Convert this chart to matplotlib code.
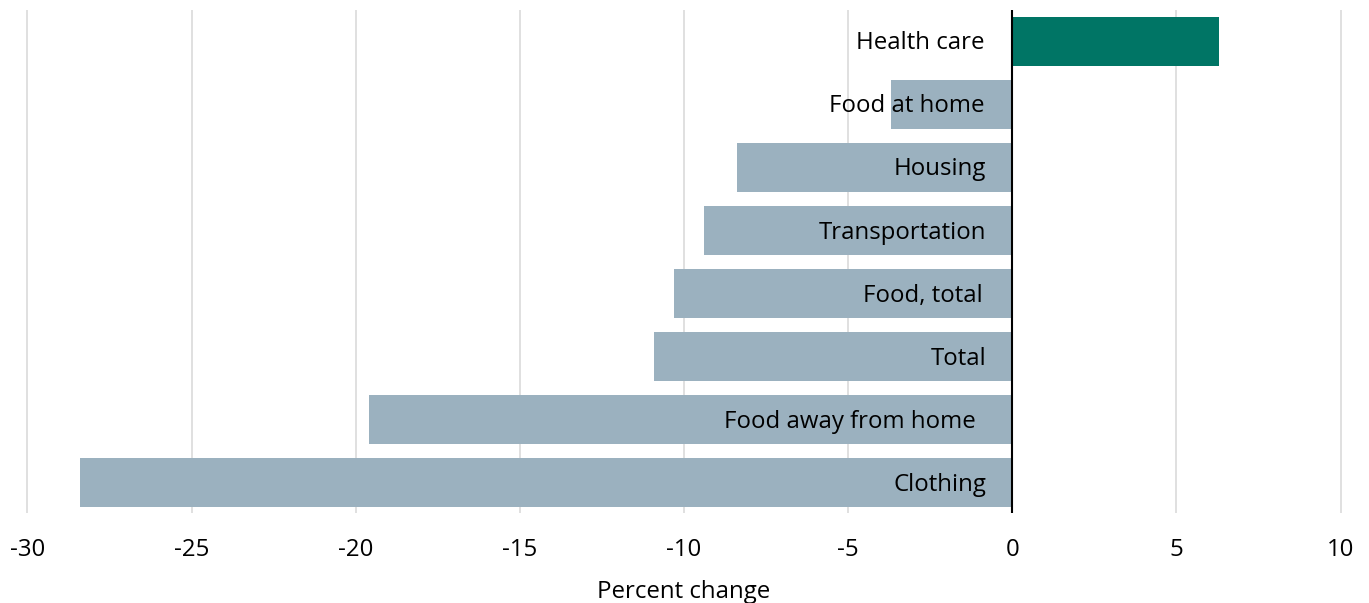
import matplotlib
matplotlib.use("Agg")
import matplotlib.pyplot as plt

categories = ["Health care", "Food at home", "Housing", "Transportation",
              "Food, total", "Total", "Food away from home", "Clothing"]
values = [6.3, -3.7, -8.4, -9.4, -10.3, -10.9, -19.6, -28.4]
xticks = [-30, -25, -20, -15, -10, -5, 0, 5, 10]

plt.rcParams['font.family'] = ['Open Sans', 'DejaVu Sans']

W, H = 1369, 603
fig = plt.figure(figsize=(W / 100, H / 100), dpi=100)
ax = fig.add_axes([11 / W, (H - 513) / H, (1357 - 11) / W, (513 - 10) / H])

colors = ["#007565" if v > 0 else "#9BB1BF" for v in values]
ypos = list(range(len(categories)))
ax.barh(ypos, values, height=0.78, color=colors, zorder=2)

label_x = [-0.85, -0.85, -0.8, -0.8, -0.9, -0.8, -1.1, -0.8]
for y, name, lx in zip(ypos, categories, label_x):
    ax.text(lx, y + 0.03, name, ha="right", va="center", fontsize=17.3, color="black", zorder=3)

ax.set_xlim(-30.5, 10.5)
ax.set_ylim(7.48, -0.5)
ax.set_xticks(xticks)
ax.set_xticklabels([str(t) for t in xticks], fontsize=17.3)
ax.set_yticks([])
ax.tick_params(axis="x", length=0, pad=18)
ax.grid(axis="x", color="#dddddd", linewidth=1.3, zorder=0)
ax.axvline(0, color="black", linewidth=1.5, zorder=4)
for s in ax.spines.values():
    s.set_visible(False)
ax.set_xlabel("Percent change", fontsize=17.3, labelpad=13)

fig.savefig("out.png", dpi=100)
